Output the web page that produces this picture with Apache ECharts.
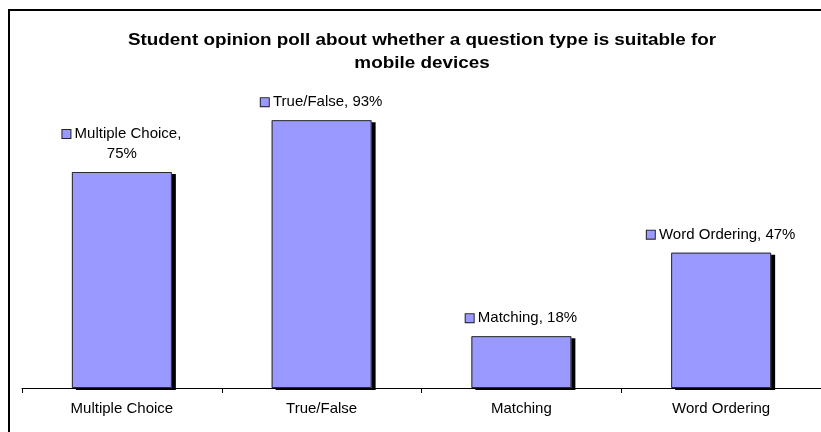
<!DOCTYPE html>
<html>
<head>
<meta charset="utf-8">
<script src="https://cdn.jsdelivr.net/npm/echarts@6/dist/echarts.min.js"></script>
<style>
html,body{margin:0;padding:0;background:#fff;}
#chart{width:821px;height:432px;}
</style>
</head>
<body>
<div id="chart"></div>
<script>
var titleText = 'Student opinion poll about whether a question type is suitable for\nmobile devices';
var categories = ['Multiple Choice', 'True/False', 'Matching', 'Word Ordering'];
var values = [75, 93, 18, 47];
var wrapLabel = [true, false, false, false];

var chart = echarts.init(document.getElementById('chart'), null, {renderer: 'canvas'});
var font = '"Liberation Sans", Arial, sans-serif';

chart.setOption({
  animation: false,
  backgroundColor: '#ffffff',
  graphic: [{
    type: 'rect',
    shape: {x: 9, y: 10, width: 900, height: 600},
    style: {fill: 'none', stroke: '#000', lineWidth: 2}
  }, {
    type: 'text',
    x: 422,
    y: 29,
    scaleX: 1.11,
    style: {
      text: titleText,
      font: 'bold 17px ' + font,
      fill: '#000',
      textAlign: 'center',
      textVerticalAlign: 'top',
      lineHeight: 23
    }
  }],
  grid: {left: 22, top: 100, width: 800, height: 288},
  xAxis: {
    type: 'category',
    data: categories,
    axisLine: {lineStyle: {color: '#000', width: 1}},
    axisTick: {show: true, length: 5, lineStyle: {color: '#000'}},
    axisLabel: {fontFamily: font, fontSize: 15, color: '#000', margin: 13}
  },
  yAxis: {
    type: 'value', min: 0, max: 100, show: false,
    splitLine: {show: false}
  },
  series: [{
    type: 'bar',
    data: values,
    barWidth: 100,
    z: 2,
    itemStyle: {
      color: '#9999ff',
      borderWidth: 0,
      shadowColor: '#000',
      shadowOffsetX: 4,
      shadowOffsetY: 2,
      shadowBlur: 0
    }
  }, {
    type: 'bar',
    data: values,
    barWidth: 100,
    barGap: '-100%',
    z: 3,
    itemStyle: {
      color: 'rgba(0,0,0,0)',
      borderColor: '#2a2a2a',
      borderWidth: 1
    },
    label: {
      show: true,
      position: 'top',
      distance: 8,
      fontFamily: font,
      fontSize: 15,
      color: '#000',
      align: 'center',
      lineHeight: 20,
      formatter: function (p) {
        var sep = wrapLabel[p.dataIndex] ? ',\n' : ', ';
        var parts = (p.name + sep + p.value + '%').split('\n');
        return '{box|}{t| ' + parts[0] + '}' + (parts.length > 1 ? '\n{t|' + parts[1] + '}' : '');
      },
      rich: {
        box: {width: 8, height: 8, backgroundColor: '#9999ff', borderColor: '#222', borderWidth: 1},
        t: {fontFamily: font, fontSize: 15, color: '#000', lineHeight: 20}
      }
    }
  }]
});
</script>
</body>
</html>
